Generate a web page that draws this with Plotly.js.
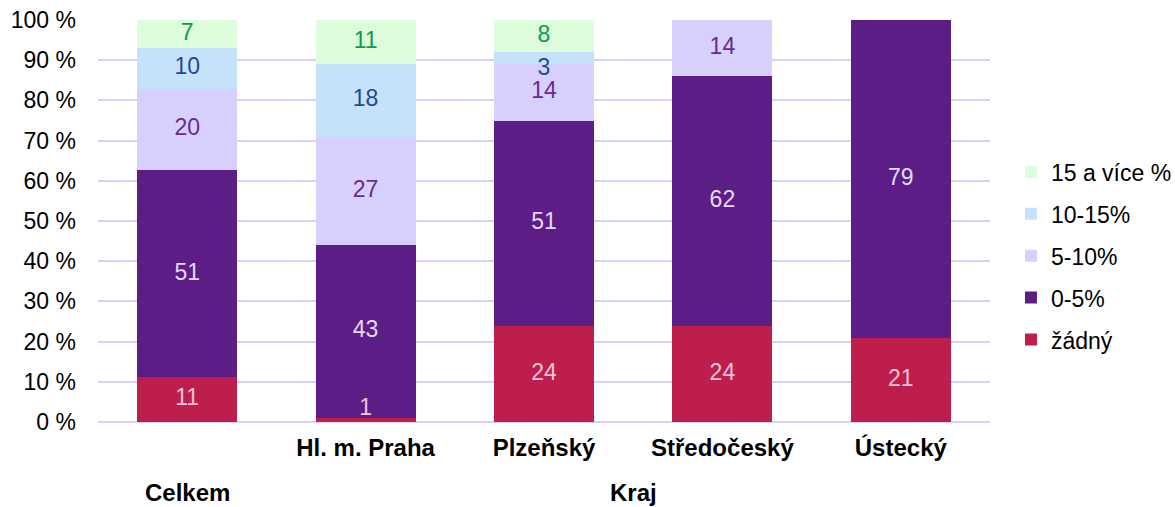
<!DOCTYPE html>
<html>
<head>
<meta charset="utf-8">
<script src="https://cdn.plot.ly/plotly-3.0.1.min.js"></script>
<style>html,body{margin:0;padding:0;background:#fff;}#chart{width:1175px;height:507px;}</style>
</head>
<body>
<div id="chart"></div>
<script>
const categories = ["Celkem", "Hl. m. Praha", "Plzeňský", "Středočeský", "Ústecký"];
const tickLabels = ["", "Hl. m. Praha", "Plzeňský", "Středočeský", "Ústecký"];
const groupLabels = ["Celkem", "Kraj"];
const seriesNames = ["žádný", "0-5%", "5-10%", "10-15%", "15 a více %"];
const zadny = [11, 1, 24, 24, 21];
const do5 = [51, 43, 51, 62, 79];
const od5do10 = [20, 27, 14, 14, 0];
const od10do15 = [10, 18, 3, 0, 0];
const nad15 = [7, 11, 8, 0, 0];

const seriesValues = [zadny, do5, od5do10, od10do15, nad15];
const barColors = ["#BE1E4B", "#5C1E86", "#D8D0FC", "#C6E2FA", "#DCFCDC"];
const textColors = ["#F4C4DA", "#E2DAF8", "#6A2A90", "#1F4A8A", "#0E9A4E"];
const FONT = "Liberation Sans, Arial, sans-serif";
const MIN_LABEL_Y = 3.2;   // keep labels of tiny segments inside the plot (as Excel does)
const SMALL_SEGMENT = 5;   // labels of thin segments sit slightly lower (as Excel does)

const bars = seriesValues.map((vals, i) => ({
  type: "bar",
  name: seriesNames[i],
  x: categories,
  y: vals,
  marker: {color: barColors[i], line: {width: 0}},
  legendgroup: "g" + i,
  legendrank: 10 - i,
  hoverinfo: "skip"
}));

// labels: centred in each (normalised) segment
const totals = categories.map((_, c) => seriesValues.reduce((s, arr) => s + arr[c], 0));
const cum = categories.map(() => 0);
const labels = seriesValues.map((vals, i) => {
  const pos = [];
  const ys = vals.map((v, c) => {
    const share = v / totals[c] * 100;
    const mid = (cum[c] + v / 2) / totals[c] * 100;
    cum[c] += v;
    pos.push(share < SMALL_SEGMENT && mid > MIN_LABEL_Y ? "bottom center" : "middle center");
    return Math.max(mid, MIN_LABEL_Y);
  });
  return {
    type: "scatter",
    mode: "text",
    x: categories,
    y: ys,
    text: vals.map(v => v > 0 ? String(v) : ""),
    textposition: pos,
    textfont: {family: FONT, size: 23, color: textColors[i]},
    cliponaxis: false,
    showlegend: false,
    hoverinfo: "skip"
  };
});

const layout = {
  width: 1175,
  height: 507,
  margin: {l: 98, r: 185, t: 20, b: 85, autoexpand: false},
  paper_bgcolor: "#fff",
  plot_bgcolor: "#fff",
  barmode: "stack",
  barnorm: "percent",
  bargap: 0.44,
  font: {family: FONT, size: 23, color: "#000"},
  xaxis: {
    type: "category",
    tickvals: categories,
    ticktext: tickLabels,
    tickfont: {size: 24, color: "#000", family: FONT, weight: "bold"},
    ticks: "",
    ticklabelstandoff: 9,
    showgrid: false,
    showline: false,
    zeroline: false
  },
  yaxis: {
    range: [0, 100],
    dtick: 10,
    ticksuffix: " %",
    tickfont: {size: 23, color: "#000"},
    ticks: "",
    ticklabelstandoff: 21,
    showgrid: true,
    gridcolor: "#D8D0F8",
    gridwidth: 2,
    zeroline: true,
    zerolinecolor: "#D8D0F8",
    zerolinewidth: 2,
    showline: false
  },
  legend: {
    x: 1.0235,
    xanchor: "left",
    y: 0.413,
    yanchor: "middle",
    traceorder: "grouped",
    tracegroupgap: 9,
    font: {size: 23, color: "#000"},
    itemwidth: 30
  },
  annotations: [
    {text: "<b>" + groupLabels[0] + "</b>", x: 0, xref: "x", y: -0.175, yref: "paper", yanchor: "middle", showarrow: false, font: {size: 24, color: "#000"}},
    {text: "<b>" + groupLabels[1] + "</b>", x: 2.5, xref: "x", y: -0.175, yref: "paper", yanchor: "middle", showarrow: false, font: {size: 24, color: "#000"}}
  ],
  showlegend: true
};

Plotly.newPlot("chart", bars.concat(labels), layout, {displayModeBar: false, staticPlot: true});
</script>
</body>
</html>
